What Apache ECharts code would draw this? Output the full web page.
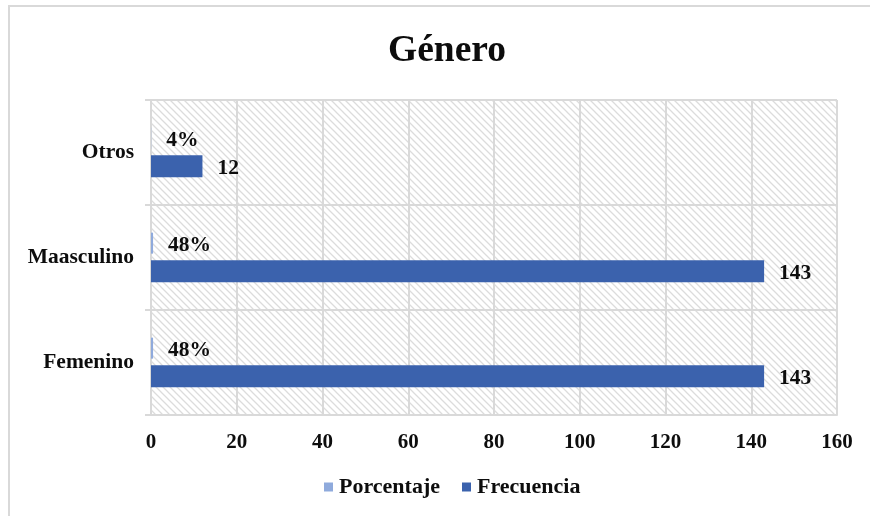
<!DOCTYPE html>
<html>
<head>
<meta charset="utf-8">
<script src="https://cdn.jsdelivr.net/npm/echarts@6/dist/echarts.min.js"></script>
<style>html,body{margin:0;padding:0;background:#fff;}#c{width:870px;height:516px;}</style>
</head>
<body>
<div id="c"></div>
<script>
const categories = ['Femenino', 'Maasculino', 'Otros'];
const porcentaje = [0.48, 0.48, 0.04];
const frecuencia = [143, 143, 12];
const xTicks = [0, 20, 40, 60, 80, 100, 120, 140, 160];

const FONT = '"Liberation Serif", "Times New Roman", serif';
const GRID = '#d9d9d9';

// hatch pattern
const pc = document.createElement('canvas');
pc.width = 7; pc.height = 7;
const g = pc.getContext('2d');
g.fillStyle = '#ffffff'; g.fillRect(0, 0, 7, 7);
g.strokeStyle = '#dcdcdc'; g.lineWidth = 1.3;
g.beginPath();
g.moveTo(-1, -1); g.lineTo(8, 8);
g.moveTo(-8, -1); g.lineTo(1, 8);
g.moveTo(6, -1); g.lineTo(15, 8);
g.stroke();

const chart = echarts.init(document.getElementById('c'), null, {renderer: 'canvas'});
const labelStyle = {fontFamily: FONT, fontWeight: 'bold', fontSize: 21, color: '#0d0d0d'};
const dataLabelStyle = {fontFamily: FONT, fontWeight: 'bold', fontSize: 21.5, color: '#0d0d0d'};
chart.setOption({
  animation: false,
  backgroundColor: '#fff',
  title: {
    text: 'Género', left: 383, top: 27,
    textStyle: {fontFamily: FONT, fontWeight: 'bold', fontSize: 37.5, color: '#0d0d0d'}
  },
  legend: {
    data: ['Porcentaje', 'Frecuencia'],
    bottom: 13, left: 319,
    itemWidth: 9, itemHeight: 9, itemGap: 22,
    icon: 'rect',
    textStyle: {fontFamily: FONT, fontWeight: 'bold', fontSize: 22, color: '#0d0d0d', padding: [0, 0, 0, 1]}
  },
  grid: {
    left: 151, right: 33, top: 100, bottom: 101,
    show: true, borderWidth: 0,
    backgroundColor: {image: pc, repeat: 'repeat'}
  },
  xAxis: {
    type: 'value', min: 0, max: 160, interval: 20,
    axisLine: {show: true, lineStyle: {color: GRID, width: 2}},
    axisTick: {show: false},
    splitLine: {show: true, lineStyle: {color: GRID, width: 2}},
    axisLabel: {margin: 17, ...labelStyle}
  },
  yAxis: {
    type: 'category', data: categories,
    axisLine: {show: true, lineStyle: {color: GRID, width: 2}},
    axisTick: {show: true, length: 6, lineStyle: {color: GRID, width: 2}},
    splitLine: {show: true, lineStyle: {color: GRID, width: 2}},
    axisLabel: {margin: 17, ...labelStyle, fontSize: 21.5}
  },
  series: [
    {
      name: 'Porcentaje', type: 'bar', data: porcentaje,
      barWidth: 21, barGap: '32%',
      itemStyle: {color: '#8faadc'},
      label: {show: true, position: 'right', distance: 15, offset: [0, 2], ...dataLabelStyle,
        formatter: p => Math.round(p.value * 100) + '%'}
    },
    {
      name: 'Frecuencia', type: 'bar', data: frecuencia,
      barWidth: 22,
      itemStyle: {color: '#3b62ad'},
      label: {show: true, position: 'right', distance: 15, offset: [0, 2], ...dataLabelStyle}
    }
  ],
  graphic: [
    {type: 'line', shape: {x1: 8, y1: 6, x2: 870, y2: 6}, style: {stroke: GRID, lineWidth: 2}},
    {type: 'line', shape: {x1: 9, y1: 6, x2: 9, y2: 516}, style: {stroke: GRID, lineWidth: 2}},
    {type: 'line', shape: {x1: 837, y1: 100, x2: 837, y2: 415}, style: {stroke: GRID, lineWidth: 2}, z: 1}
  ]
});
</script>
</body>
</html>
